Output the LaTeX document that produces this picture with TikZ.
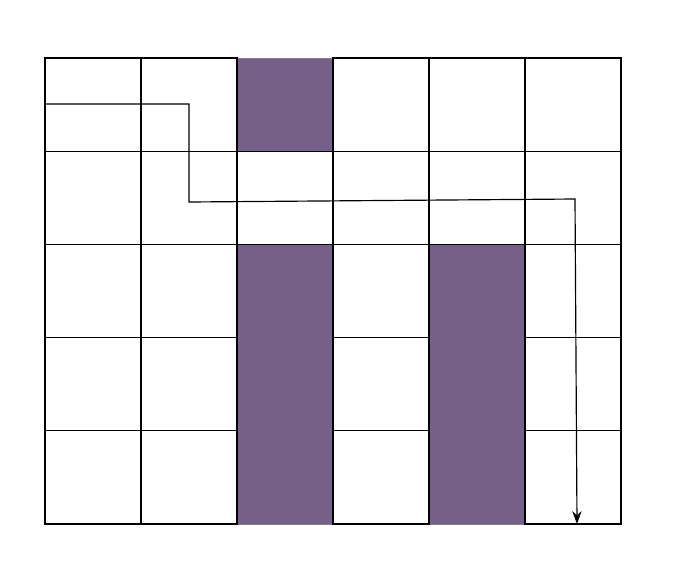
\documentclass[tikz,border=0pt]{standalone}
\usepackage{tikz}
\usetikzlibrary{arrows.meta, positioning}

\definecolor{wallpurple}{HTML}{76608A}

\begin{document}
\begin{tikzpicture}[x=0.03cm, y=-0.03cm]
\useasboundingbox (0,0) rectangle (682,582);
% walls
\foreach \i/\j/\h in {2/0/1, 2/2/3, 4/2/3} {
    \draw[fill=wallpurple, draw=gray, line width=0.8pt] (45+\i*96, 58+\j*93.2) rectangle (45+\i*96+96, 58+\j*93.2+\h*93.2);
}
% free cells
\foreach \i/\j in {0/0, 1/0, 3/0, 4/0, 5/0, 0/1, 1/1, 2/1, 3/1, 4/1, 5/1, 0/2, 1/2, 3/2, 5/2, 0/3, 1/3, 3/3, 5/3, 0/4, 1/4, 3/4, 5/4} {
    \draw[line width=1pt] (45+\i*96, 58+\j*93.2) rectangle (45+\i*96+96, 58+\j*93.2+93.2);
}
% route
\coordinate (start) at (45,104);
\coordinate (bendA) at (189,104);
\coordinate (bendB) at (189,202);
\coordinate (bendC) at (575,199);
\coordinate (goal) at (577,524);
\draw[line width=1pt, -{Stealth[length=11pt, width=8pt]}] (start) -- (bendA) -- (bendB) -- (bendC) -- (goal);
\end{tikzpicture}
\end{document}
